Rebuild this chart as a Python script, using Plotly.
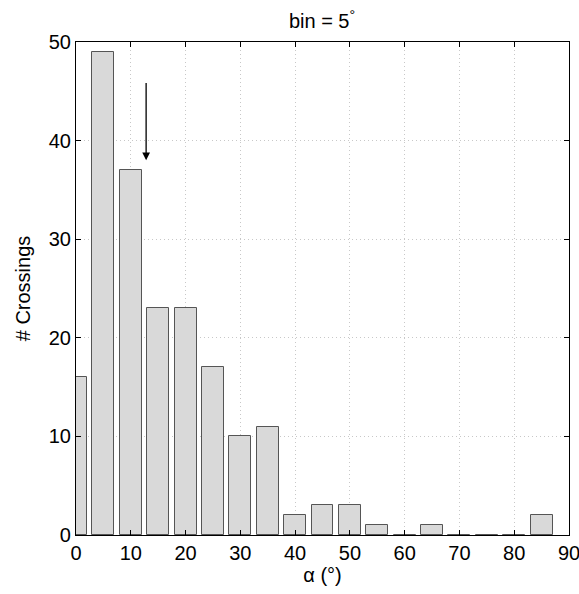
import plotly.graph_objects as go

bin_centers = [0, 5, 10, 15, 20, 25, 30, 35, 40, 45, 50, 55, 60, 65, 70, 75, 80, 85]
counts = [16, 49, 37, 23, 23, 17, 10, 11, 2, 3, 3, 1, 0, 1, 0, 0, 0, 2]
x_ticks = [0, 10, 20, 30, 40, 50, 60, 70, 80, 90]
y_ticks = [0, 10, 20, 30, 40, 50]
arrow_x = 12.8
arrow_tail_y = 46
arrow_head_y = 38

fig = go.Figure()
fig.add_trace(go.Bar(
    x=bin_centers, y=counts, width=4,
    marker=dict(color="#d9d9d9", line=dict(color="#555555", width=1)),
    showlegend=False,
))

fig.add_annotation(
    x=arrow_x, y=arrow_head_y, ax=arrow_x, ay=arrow_tail_y,
    xref="x", yref="y", axref="x", ayref="y",
    showarrow=True, arrowhead=2, arrowsize=1.2, arrowwidth=1.3, arrowcolor="black",
    text="",
)

font = "Liberation Sans, Arial, Helvetica, sans-serif"
fig.update_layout(
    width=579, height=594,
    margin=dict(l=76, r=10, t=42, b=59, autoexpand=False),
    paper_bgcolor="white", plot_bgcolor="white",
    font=dict(family=font, size=20, color="black"),
    title=dict(text="bin = 5<sup>°</sup>", x=322 / 579, xanchor="center",
               y=1 - 21 / 594, yanchor="middle", font=dict(size=20)),
    bargap=0,
)
grid = dict(showgrid=True, gridcolor="#c8c8c8", griddash="1px,3px", gridwidth=1)
fig.update_xaxes(
    range=[0, 90], tickvals=x_ticks, ticks="inside", ticklen=5, tickcolor="black",
    showline=True, linecolor="black", linewidth=1.2, mirror="ticks",
    zeroline=False, automargin=False, ticklabeloverflow="allow",
    title=dict(text="α (°)", font=dict(size=20), standoff=4), **grid,
)
fig.update_yaxes(
    range=[0, 50], tickvals=y_ticks, ticks="inside", ticklen=5, tickcolor="black",
    showline=True, linecolor="black", linewidth=1.2, mirror="ticks",
    zeroline=False, automargin=False, ticklabeloverflow="allow",
    title=dict(text="# Crossings", font=dict(size=20), standoff=12), **grid,
)

fig.write_html("out.html", config={"displayModeBar": False},
               post_script="document.body.style.margin='0';")
